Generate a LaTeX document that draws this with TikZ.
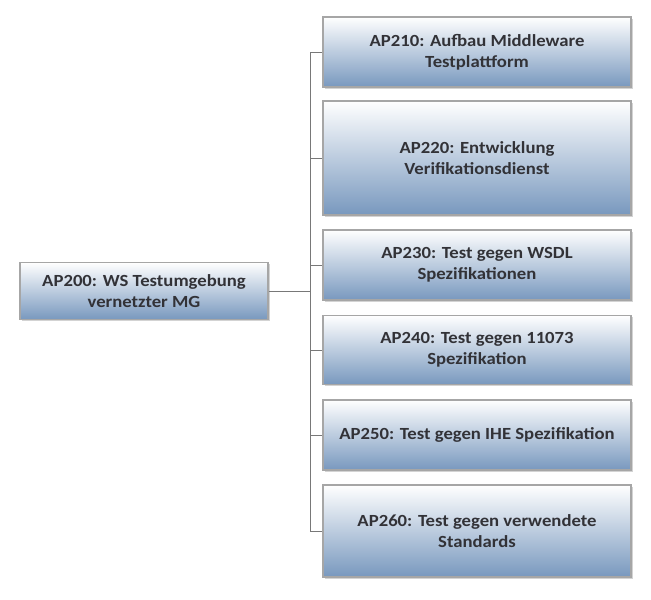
\documentclass[tikz,border=0pt]{standalone}
\usepackage{fontspec}
\setmainfont{Carlito}[FakeStretch=1.1]
\usetikzlibrary{shadows}
\definecolor{boxbot}{RGB}{120,152,190}
\definecolor{txt}{RGB}{50,50,55}
\definecolor{ln}{RGB}{120,120,120}
\tikzset{
  wp/.style={draw=gray!70, line width=1.2pt, top color=white, bottom color=boxbot,
    drop shadow={shadow xshift=1.5pt,shadow yshift=-1.5pt,opacity=0.35},
    font=\bfseries\fontsize{17pt}{21pt}\selectfont, text=txt, align=center, inner sep=0pt},
  con/.style={draw=ln, line width=0.8pt}
}
\begin{document}
\begin{tikzpicture}[x=1pt,y=-1pt]
\useasboundingbox (0,0) rectangle (651,600);
\node[wp, minimum width=248, minimum height=57] (l) at (144,291) {AP200: WS Testumgebung\\vernetzter MG};
\node[wp, minimum width=308, minimum height=70] (a) at (477,52) {AP210: Aufbau Middleware\\Testplattform};
\node[wp, minimum width=308, minimum height=114] (b) at (477,158) {AP220: Entwicklung\\Verifikationsdienst};
\node[wp, minimum width=308, minimum height=70] (c) at (477,265) {AP230: Test gegen WSDL\\Spezifikationen};
\node[wp, minimum width=308, minimum height=69] (d) at (477,350) {AP240: Test gegen 11073\\Spezifikation};
\node[wp, minimum width=308, minimum height=70] (e) at (477,435) {AP250: Test gegen IHE Spezifikation};
\node[wp, minimum width=308, minimum height=92] (f) at (477,531) {AP260: Test gegen verwendete\\Standards};
\coordinate (j) at (310,291);
\draw[con] (l.east) -- (j);
\draw[con] (310,0 |- a.west) -- (310,0 |- f.west);
\foreach \n in {a,b,c,d,e,f} \draw[con] (310,0 |- \n.west) -- (\n.west);
\end{tikzpicture}
\end{document}
